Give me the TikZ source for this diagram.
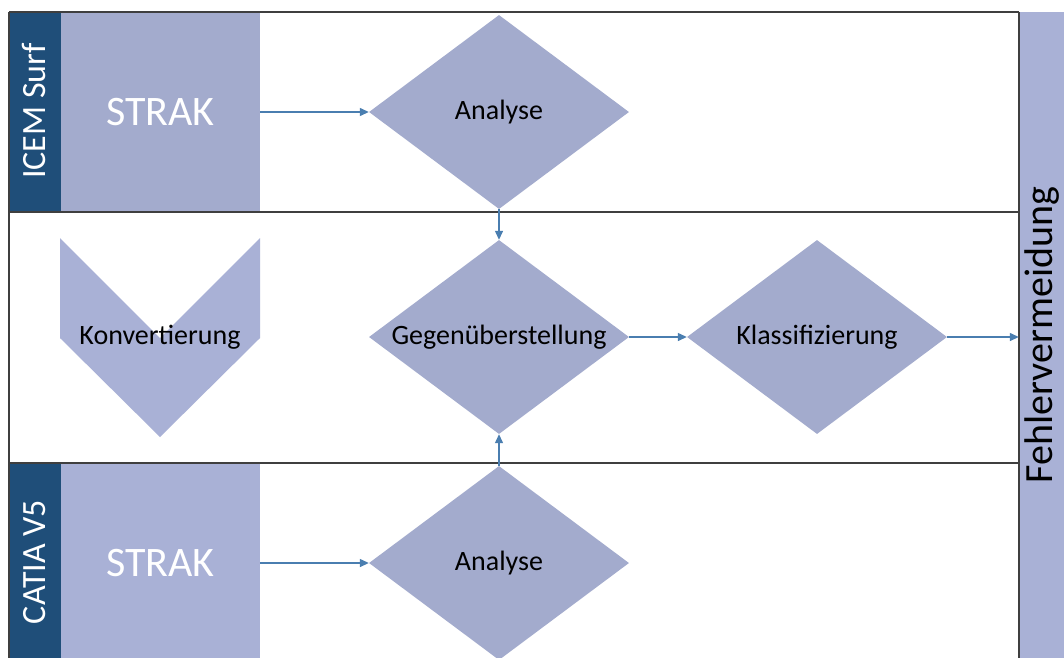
\documentclass[tikz,border=0pt]{standalone}
\usepackage{fontspec}
\setmainfont{Carlito}
\usetikzlibrary{shapes.geometric,arrows.meta}

\definecolor{laneblue}{HTML}{1F4E79}
\definecolor{boxfill}{HTML}{A3ABCD}
\definecolor{boxlight}{HTML}{A9B1D6}
\definecolor{flowblue}{HTML}{4A7EB0}
\definecolor{frameline}{HTML}{3F3F3F}

\tikzset{
  lanelabel/.style={rectangle, fill=laneblue, inner sep=0pt,
    minimum width=52pt, minimum height=200pt},
  lanetext/.style={text=white, rotate=90, anchor=base, inner sep=0pt,
    font=\fontsize{34}{38}\selectfont},
  strakbox/.style={rectangle, fill=boxfill, text=white,
    minimum width=199pt, minimum height=200pt, inner sep=0pt,
    font=\fontsize{42}{46}\selectfont},
  % the diamond keeps a fixed size; its text is set as a centred label
  decision/.style={diamond, fill=boxfill, inner sep=0pt,
    minimum width=260pt, minimum height=194pt,
    label={[text=black, font=\fontsize{28}{32}\selectfont]center:#1}},
  endstrip/.style={rectangle, fill=boxlight, inner sep=0pt,
    minimum width=53pt, minimum height=646pt},
  striptext/.style={text=black, rotate=90, anchor=base, inner sep=0pt,
    font=\fontsize{40}{44}\selectfont},
  chevronfill/.style={fill=boxlight},
  chevrontext/.style={font=\fontsize{28}{32}\selectfont, text=black, inner sep=0pt},
  frame/.style={draw=frameline, line width=1.2pt},
  flow/.style={draw=flowblue, line width=1.3pt, -{Triangle[length=9pt,width=8pt]}}
}

\begin{document}
\begin{tikzpicture}[x=1pt,y=-1pt]
  \clip (0,0) rectangle (1064,657);
  \fill[white] (0,0) rectangle (1064,657);

  % lane headers
  \node[lanelabel] (icem) at (35,112) {};
  \node[lanetext] (icemtext) at (45,111) {ICEM Surf};
  \node[lanelabel] (catia) at (35,563) {};
  \node[lanetext] (catiatext) at (45,562) {CATIA V5};

  % STRAK boxes
  \node[strakbox] (strakA) at (160.5,112) {STRAK};
  \node[strakbox, fill=boxlight] (strakB) at (160.5,563) {STRAK};

  % conversion chevron between the two systems
  \coordinate (cvTL) at (60,238);
  \coordinate (cvTR) at (260,238);
  \coordinate (cvNotch) at (160,338);
  \coordinate (cvR) at (260,338);
  \coordinate (cvTip) at (160,437);
  \coordinate (cvL) at (60,338);
  \fill[chevronfill] (cvTL) -- (cvNotch) -- (cvTR) -- (cvR) -- (cvTip) -- (cvL) -- cycle;
  \node[chevrontext] (konv) at (160,337) {Konvertierung};

  % right-hand result strip
  \node[endstrip] (fehler) at (1045.5,335) {};
  \node[striptext] (fehlertext) at (1052,335) {Fehlervermeidung};

  % decisions
  \node[decision=Analyse] (anaA) at (499,112) {};
  \node[decision=Gegenüberstellung] (gegen) at (499,337) {};
  \node[decision=Klassifizierung] (klass) at (817,337) {};
  \node[decision=Analyse] (anaB) at (499,563) {};

  % lane frame
  \draw[frame] (9,12) -- (1019,12);
  \draw[frame] (9,212) -- (1019,212);
  \draw[frame] (9,463) -- (1019,463);
  \draw[frame] (9,12) -- (9,660);
  \draw[frame] (1019,12) -- (1019,660);

  % flow connectors
  \draw[flow] (strakA.east |- anaA.west) -- (anaA.west);
  \draw[flow] (strakB.east |- anaB.west) -- (anaB.west);
  \draw[flow] (anaA.south) -- (gegen.north);
  \draw[flow] (anaB.north) -- (gegen.south);
  \draw[flow] (gegen.east) -- (klass.west);
  \draw[flow] (klass.east) -- (fehler.west |- klass.east);
\end{tikzpicture}
\end{document}
